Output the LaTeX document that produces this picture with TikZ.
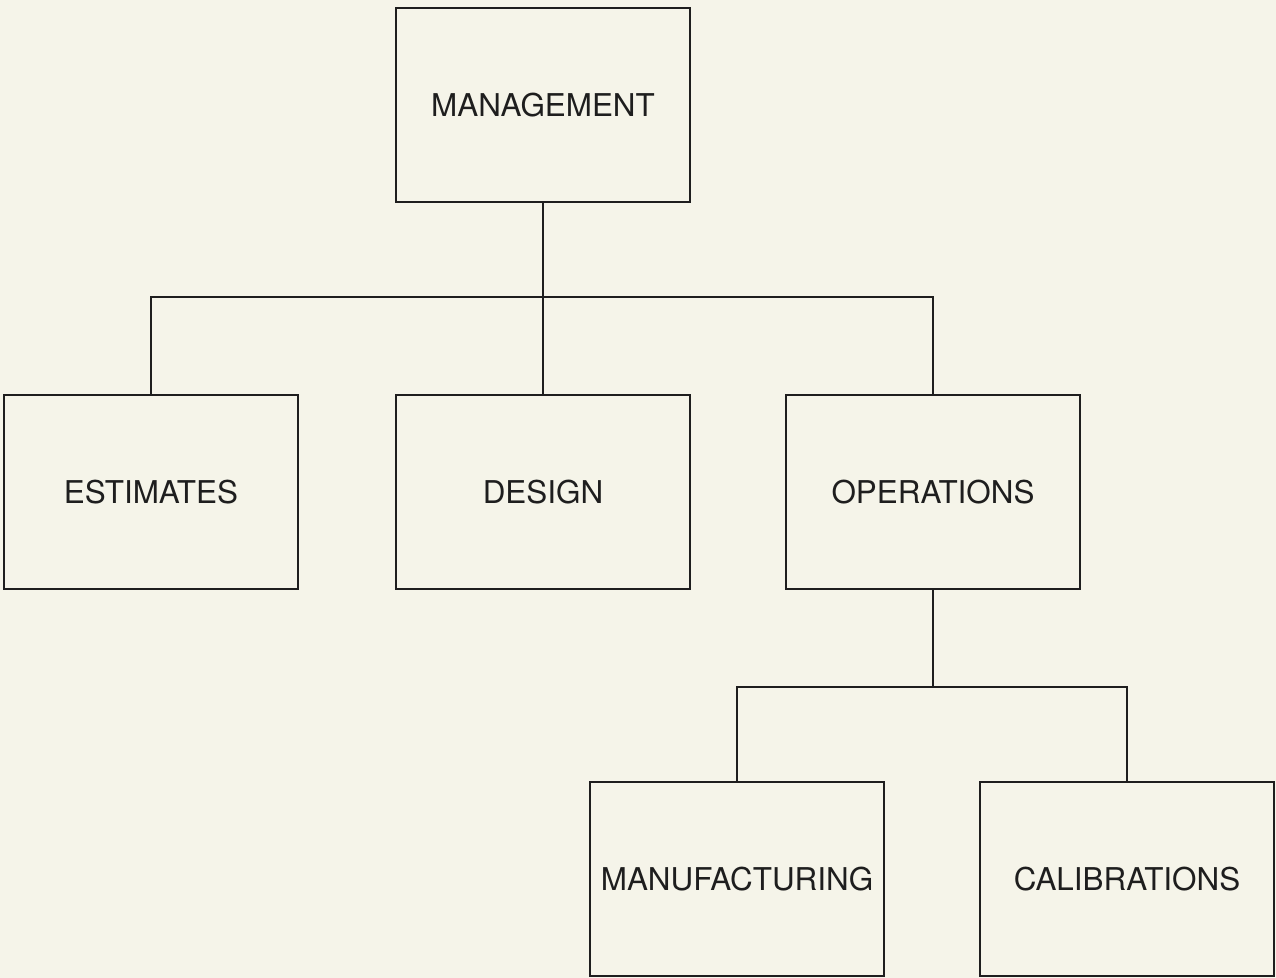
\documentclass[tikz,border=0pt]{standalone}
\usepackage{fontspec}
\setmainfont{TeX Gyre Heros}
\definecolor{paper}{RGB}{245,244,233}
\definecolor{ink}{RGB}{30,30,30}
\begin{document}
\begin{tikzpicture}[x=0.5pt,y=-0.5pt,
    unit/.style={draw=ink,line width=1.1pt,minimum width=147pt,minimum height=97pt,
      inner sep=0pt,outer sep=0pt,text=ink,font=\fontsize{15.7pt}{18pt}\selectfont},
    link/.style={draw=ink,line width=1.1pt}]
  \fill[paper] (0,0) rectangle (1276,978);
  \node[unit] (mgmt) at (543,105) {MANAGEMENT};
  \node[unit] (est) at (151,492) {ESTIMATES};
  \node[unit] (des) at (543,492) {DESIGN};
  \node[unit] (ops) at (933,492) {OPERATIONS};
  \node[unit] (manu) at (737,879) {MANUFACTURING};
  \node[unit] (cal) at (1127,879) {CALIBRATIONS};
  % first level
  \coordinate (bus1) at (543,297);
  \draw[link] (mgmt.south) -- (bus1);
  \draw[link] (est.north) |- (bus1) -| (ops.north);
  \draw[link] (bus1) -- (des.north);
  % second level
  \coordinate (bus2) at (933,687);
  \draw[link] (ops.south) -- (bus2);
  \draw[link] (manu.north) |- (bus2) -| (cal.north);
\end{tikzpicture}
\end{document}
